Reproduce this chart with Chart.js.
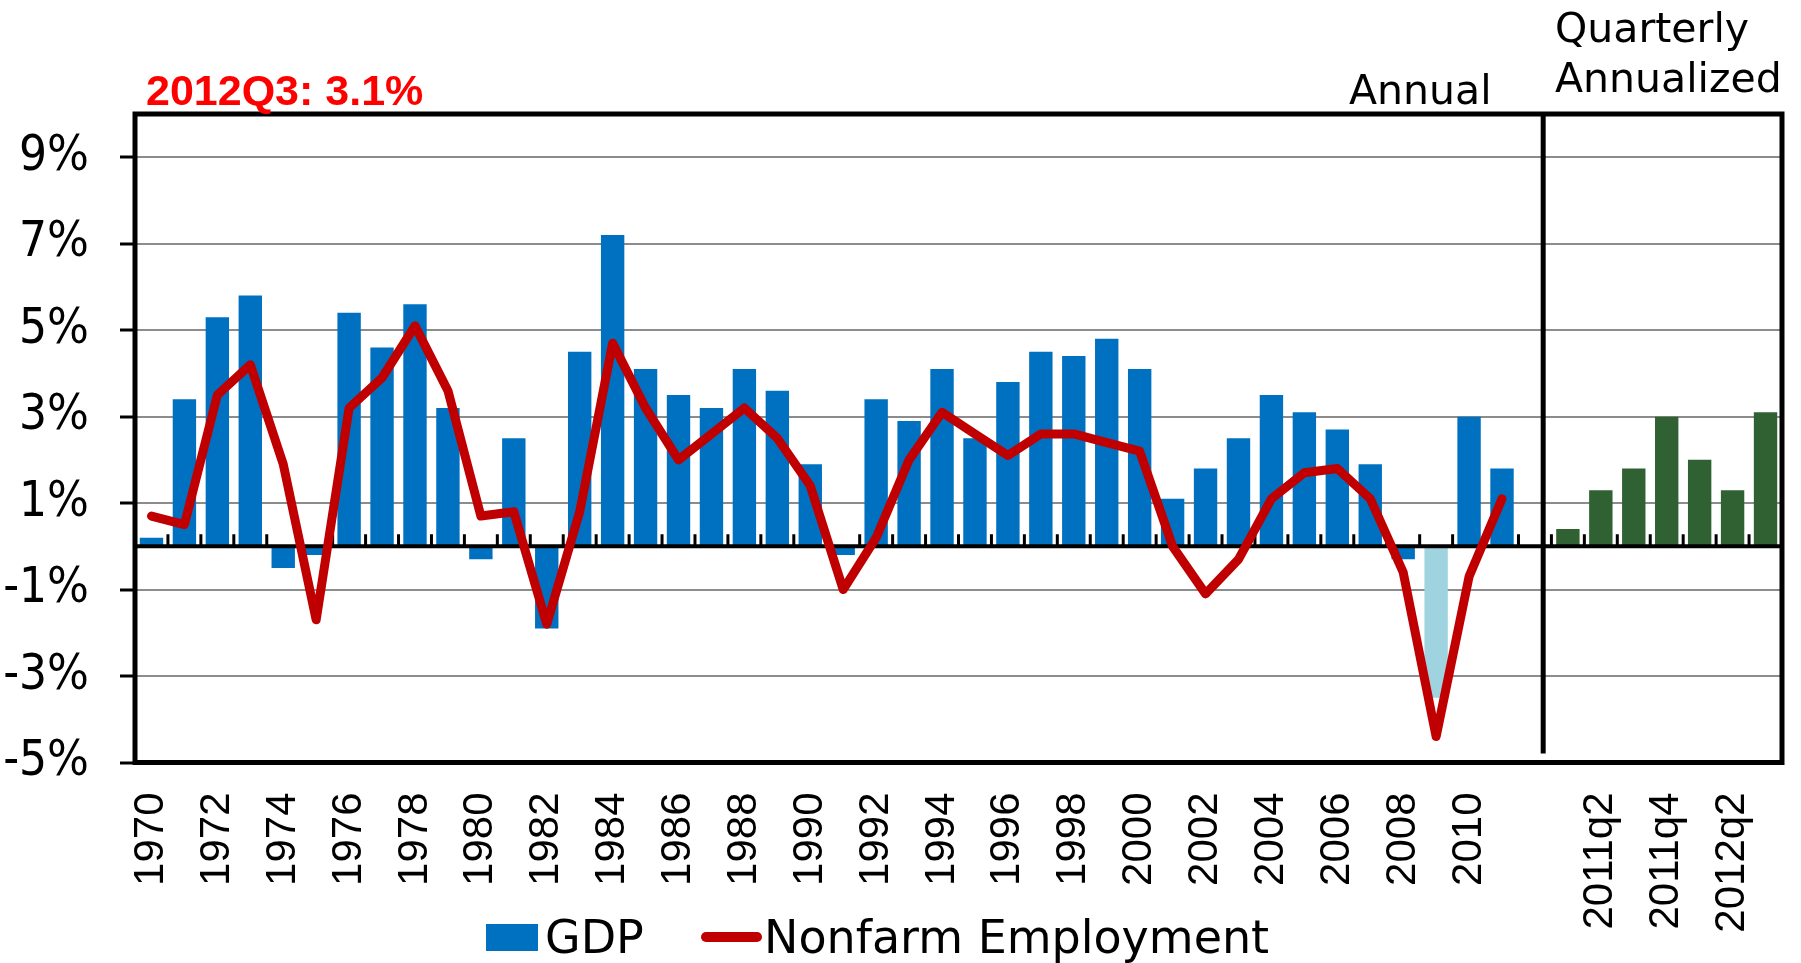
<!DOCTYPE html>
<html>
<head>
<meta charset="utf-8">
<script src="https://cdn.jsdelivr.net/npm/chart.js@4.4.1/dist/chart.umd.min.js"></script>
<style>
  html, body { margin: 0; padding: 0; background: #fff; }
  #wrap { width: 1801px; height: 963px; position: relative; }
</style>
</head>
<body>
<div id="wrap"><canvas id="gdpChart"></canvas></div>
<script>
// Annual section
const years = ['1970', '1971', '1972', '1973', '1974', '1975', '1976', '1977', '1978', '1979',
  '1980', '1981', '1982', '1983', '1984', '1985', '1986', '1987', '1988', '1989',
  '1990', '1991', '1992', '1993', '1994', '1995', '1996', '1997', '1998', '1999',
  '2000', '2001', '2002', '2003', '2004', '2005', '2006', '2007', '2008', '2009',
  '2010', '2011'];
const gdpAnnual = [0.2, 3.4, 5.3, 5.8, -0.5, -0.2, 5.4, 4.6, 5.6, 3.2,
  -0.3, 2.5, -1.9, 4.5, 7.2, 4.1, 3.5, 3.2, 4.1, 3.6,
  1.9, -0.2, 3.4, 2.9, 4.1, 2.5, 3.8, 4.5, 4.4, 4.8,
  4.1, 1.1, 1.8, 2.5, 3.5, 3.1, 2.7, 1.9, -0.3, -3.5,
  3.0, 1.8];
const payrollAnnual = [0.7, 0.5, 3.5, 4.2, 1.9, -1.7, 3.2, 3.9, 5.1, 3.6,
  0.7, 0.8, -1.8, 0.8, 4.7, 3.2, 2.0, 2.6, 3.2, 2.5,
  1.4, -1.0, 0.2, 2.0, 3.1, 2.6, 2.1, 2.6, 2.6, 2.4,
  2.2, 0.0, -1.1, -0.3, 1.1, 1.7, 1.8, 1.1, -0.6, -4.4,
  -0.7, 1.1];

// Quarterly annualized section
const quarters = ['2011q1', '2011q2', '2011q3', '2011q4', '2012q1', '2012q2', '2012q3'];
const gdpQuarterly = [0.4, 1.3, 1.8, 3.0, 2.0, 1.3, 3.1];

// labels shown under the axis
const shownTicks = ['1970', '1972', '1974', '1976', '1978', '1980', '1982', '1984', '1986', '1988',
  '1990', '1992', '1994', '1996', '1998', '2000', '2002', '2004', '2006', '2008', '2010',
  '2011q2', '2011q4', '2012q2'];
const yTicks = [-5, -3, -1, 1, 3, 5, 7, 9];

const labels = [...years, '', ...quarters];
const gdpData = [...gdpAnnual, null, ...gdpQuarterly];
const payrollData = [...payrollAnnual, null, ...quarters.map(() => null)];
const barColors = labels.map(l => l === '2009' ? '#A0D3E0' : (l.includes('q') ? '#2F6132' : '#0070C0'));

const dejavu = "'DejaVu Sans', sans-serif";

// box around the plot, zero line, divider and texts
const frame = {
    id: 'frame',
    beforeDatasetDraw(chart, args) {
        if (args.meta.type !== 'line') return;
        const { ctx, chartArea: a, scales: { x, y } } = chart;
        const y0 = y.getPixelForValue(0);
        const w = (a.right - a.left) / labels.length;
        ctx.save();
        ctx.strokeStyle = '#000';
        ctx.lineWidth = 3;
        ctx.beginPath();
        for (let k = 1; k < labels.length; k++) {
            const px = x.getPixelForValue(k) - w / 2;
            ctx.moveTo(px, y0);
            ctx.lineTo(px, y0 - 12);
        }
        ctx.stroke();
        ctx.lineWidth = 4;
        ctx.beginPath();
        ctx.moveTo(a.left, y0);
        ctx.lineTo(a.right, y0);
        ctx.stroke();
        ctx.restore();
    },
    afterDraw(chart) {
        const { ctx, chartArea: a, scales: { x } } = chart;
        const w = (a.right - a.left) / labels.length;
        ctx.save();
        ctx.strokeStyle = '#000';
        ctx.lineWidth = 5;
        ctx.strokeRect(a.left, a.top, a.right - a.left, a.bottom - a.top);
        // divider between annual and quarterly
        const dx = x.getPixelForValue(years.length) + w * 0.25;
        ctx.beginPath();
        ctx.moveTo(dx, a.top);
        ctx.lineTo(dx, a.bottom - 9);
        ctx.stroke();

        ctx.textBaseline = 'alphabetic';
        ctx.textAlign = 'left';
        ctx.fillStyle = '#FF0000';
        ctx.font = "bold 43px 'Liberation Sans', Arial, sans-serif";
        ctx.fillText('2012Q3: 3.1%', 146, 105);

        ctx.fillStyle = '#000';
        ctx.font = '41px ' + dejavu;
        ctx.fillText('Annual', 1349, 104);
        ctx.fillText('Quarterly', 1555, 42);
        ctx.fillText('Annualized', 1555, 92);

        // legend
        ctx.fillStyle = '#0070C0';
        ctx.fillRect(486, 924, 52, 27);
        ctx.strokeStyle = '#C00000';
        ctx.lineWidth = 10;
        ctx.lineCap = 'round';
        ctx.beginPath();
        ctx.moveTo(706, 937);
        ctx.lineTo(757, 937);
        ctx.stroke();
        ctx.fillStyle = '#000';
        ctx.font = '46px ' + dejavu;
        ctx.fillText('GDP', 545, 953);
        ctx.fillText('Nonfarm Employment', 764, 953);
        ctx.restore();
    }
};

const gdpChart = new Chart(document.getElementById('gdpChart'), {
    type: 'bar',
    data: {
        labels: labels,
        datasets: [{
            type: 'line',
            label: 'Nonfarm Employment',
            data: payrollData,
            borderColor: '#C00000',
            borderWidth: 9,
            borderJoinStyle: 'round',
            borderCapStyle: 'round',
            pointRadius: 0,
            tension: 0,
            order: 0,
        }, {
            label: 'GDP',
            data: gdpData,
            backgroundColor: barColors,
            barPercentage: 0.71,
            categoryPercentage: 1,
            order: 1,
        }],
    },
    options: {
        responsive: true,
        maintainAspectRatio: false,
        animation: false,
        layout: { padding: { top: 114, right: 19, left: 0, bottom: 0 } },
        plugins: {
            legend: { display: false },
            tooltip: { enabled: false },
        },
        scales: {
            x: {
                grid: { display: false, drawTicks: false },
                border: { display: false },
                ticks: {
                    autoSkip: false,
                    minRotation: 90,
                    maxRotation: 90,
                    padding: 30,
                    color: '#000',
                    font: { family: "'Liberation Sans', Arial, sans-serif", size: 42 },
                    callback: function (value) {
                        const l = labels[value];
                        return shownTicks.includes(l) ? l : '';
                    },
                },
                afterFit: (scale) => {
                    scale.height = 200.5;
                    scale.paddingLeft = 0;
                    scale.paddingRight = 0;
                },
            },
            y: {
                min: -5,
                max: 10,
                afterBuildTicks: (scale) => {
                    scale.ticks = yTicks.map(v => ({ value: v }));
                },
                grid: {
                    color: '#8C8C8C',
                    lineWidth: 2,
                    tickLength: 15,
                    tickColor: '#000',
                    tickWidth: 3,
                },
                border: { display: false },
                ticks: {
                    padding: 31,
                    color: '#000',
                    font: { family: "'Liberation Sans Narrow', 'DejaVu Sans Condensed', sans-serif", size: 49 },
                    callback: (v) => v + '%',
                },
                afterFit: (scale) => {
                    scale.width = 135;
                },
            },
        },
    },
    plugins: [frame],
});
</script>
</body>
</html>
